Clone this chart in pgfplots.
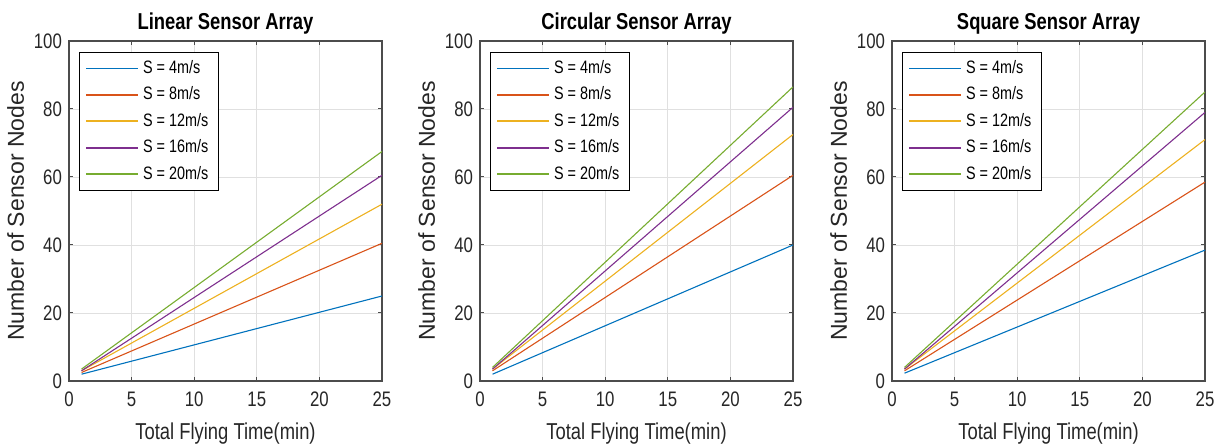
\documentclass[border=0pt]{standalone}
\usepackage{fontspec}
\setmainfont[FakeStretch=0.8]{Liberation Sans}
\newfontfamily\ylfont{Liberation Sans}
\usepackage{pgfplots}
\pgfplotsset{compat=1.18}
\definecolor{mBlue}{rgb}{0,0.447,0.741}
\definecolor{mRed}{rgb}{0.85,0.325,0.098}
\definecolor{mYellow}{rgb}{0.929,0.694,0.125}
\definecolor{mPurple}{rgb}{0.494,0.184,0.556}
\definecolor{mGreen}{rgb}{0.466,0.674,0.188}
\definecolor{axgray}{gray}{0.3}

\pgfplotsset{
  panel/.style={
    scale only axis, width=156.5pt, height=170pt,
    xmin=0, xmax=25, ymin=0, ymax=100,
    xtick={0,5,...,25}, ytick={0,20,...,100},
    grid=major, major grid style={draw=black!12, line width=0.4pt},
    axis line style={draw=axgray, line width=0.6pt},
    tick style={draw=axgray, line width=0.5pt},
    tick align=inside, major tick length=2pt,
    /pgf/number format/assume math mode=true,
    tick label style={font=\fontsize{10.5}{12}\selectfont, text=black!85},
    xticklabel style={yshift=-2pt},
    xlabel={Total Flying Time(min)},
    ylabel={\ylfont Number of Sensor Nodes},
    label style={font=\fontsize{11.5}{13}\selectfont, text=black!85},
    xlabel style={yshift=-1pt},
    ylabel style={yshift=-2pt},
    title style={font=\bfseries\fontsize{11.5}{13}\selectfont, yshift=-6pt},
    every axis plot/.append style={line width=0.55pt, no marks},
    legend cell align=left,
    legend style={at={(0.032,0.968)}, anchor=north west, draw=black,
      line width=0.5pt, fill=white,
      font=\fontsize{9}{10.5}\selectfont, row sep=1.2pt,
      inner xsep=3pt, inner ysep=2pt},
    legend image code/.code={\draw[#1, line width=0.8pt] (0pt,0pt) -- (26pt,0pt);},
  }
}

\begin{document}
\begin{tikzpicture}
\begin{axis}[panel, at={(0pt,0pt)}, title={Linear Sensor Array}]
\addplot[draw=mBlue] coordinates {(1,2) (25,25)};
\addplot[draw=mRed] coordinates {(1,2.5) (25,40.5)};
\addplot[draw=mYellow] coordinates {(1,3) (25,52)};
\addplot[draw=mPurple] coordinates {(1,3) (25,60.5)};
\addplot[draw=mGreen] coordinates {(1,3.5) (25,67.5)};
\legend{S = 4m/s, S = 8m/s, S = 12m/s, S = 16m/s, S = 20m/s}
\end{axis}
\begin{axis}[panel, at={(205.5pt,0pt)}, title={Circular Sensor Array}]
\addplot[draw=mBlue] coordinates {(1,2) (25,40)};
\addplot[draw=mRed] coordinates {(1,3) (25,60.5)};
\addplot[draw=mYellow] coordinates {(1,3.5) (25,72.5)};
\addplot[draw=mPurple] coordinates {(1,3.5) (25,80.5)};
\addplot[draw=mGreen] coordinates {(1,4) (25,86.5)};
\legend{S = 4m/s, S = 8m/s, S = 12m/s, S = 16m/s, S = 20m/s}
\end{axis}
\begin{axis}[panel, at={(411.5pt,0pt)}, title={Square Sensor Array}]
\addplot[draw=mBlue] coordinates {(1,2.3) (25,38.5)};
\addplot[draw=mRed] coordinates {(1,3) (25,58.5)};
\addplot[draw=mYellow] coordinates {(1,3.5) (25,71)};
\addplot[draw=mPurple] coordinates {(1,3.5) (25,79)};
\addplot[draw=mGreen] coordinates {(1,4) (25,85)};
\legend{S = 4m/s, S = 8m/s, S = 12m/s, S = 16m/s, S = 20m/s}
\end{axis}
\pgfresetboundingbox
\path (-34.5pt,-33.5pt) rectangle (575.5pt,190.5pt);
\end{tikzpicture}
\end{document}
